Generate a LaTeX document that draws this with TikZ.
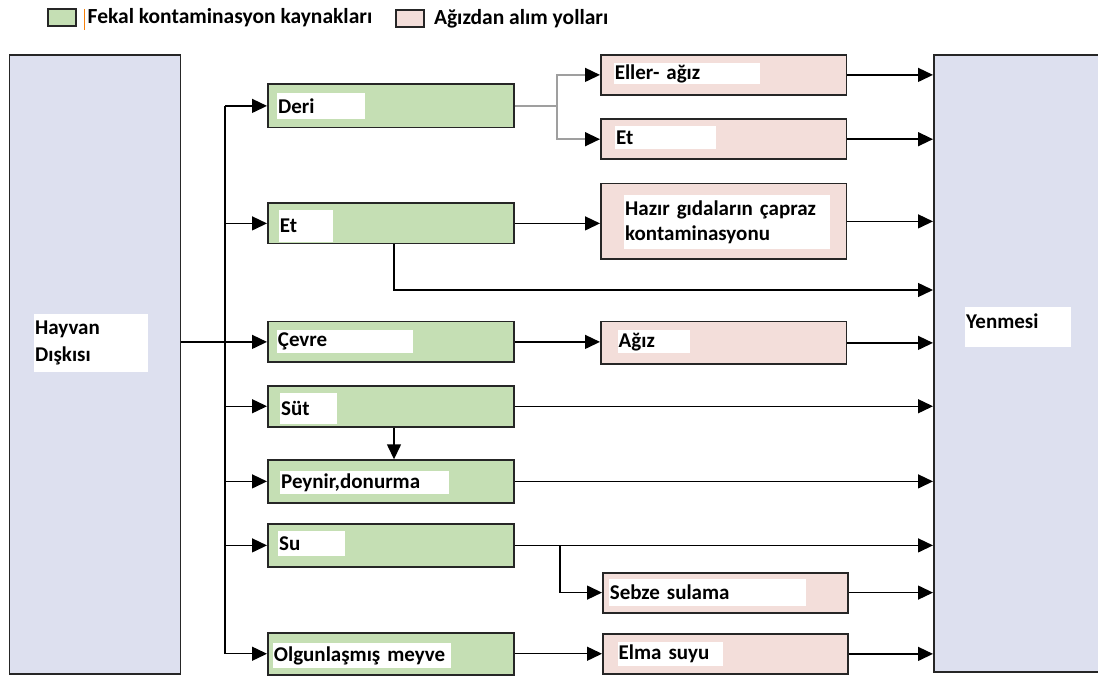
\documentclass[tikz,border=0pt]{standalone}
\usepackage{fontspec}
\setmainfont{Carlito}
\usetikzlibrary{positioning,arrows.meta}
\definecolor{srcgreen}{HTML}{C5DFB4}
\definecolor{routepink}{HTML}{F3DEDA}
\definecolor{endblue}{HTML}{DDE0EF}
\definecolor{boxline}{HTML}{262626}
\tikzset{
  box/.style={draw=boxline, line width=1.8pt, anchor=north west, inner sep=0pt},
  src/.style={box, fill=srcgreen, minimum width=246pt},
  route/.style={box, fill=routepink, minimum width=245.5pt},
  big/.style={box, fill=endblue},
  lbl/.style={fill=white, inner xsep=1pt, inner ysep=0pt, align=left,
    font=\fontsize{21}{27}\selectfont\bfseries},
  arr/.style={line width=1.4pt, -{Triangle[length=15pt,width=14pt]}},
  garr/.style={line width=1.4pt, draw=gray!75, -{Triangle[length=15pt,width=14pt,color=black]}}
}
\begin{document}
\begin{tikzpicture}
      [x = 1pt, y = -1pt]
      \useasboundingbox (0,0) rectangle (1098,676);
      % legend
      \node[src, minimum width=28pt, minimum height=17pt] (legsrc) at (46.7,8.3) {};
      \node[lbl, fill=none, font=\fontsize{21.5}{26}\selectfont\bfseries, right=10pt of legsrc] (legsrct) {Fekal kontaminasyon kaynakları};
      \draw[orange!85!brown, line width=1pt] (84,9) -- (84,30);
      \node[route, minimum width=28pt, minimum height=17pt] (legroute) at (395,9.3) {};
      \node[lbl, fill=none, font=\fontsize{21.5}{26}\selectfont\bfseries, right=8pt of legroute] (legroutet) {Ağızdan alım yolları};
      % outer boxes
      \node[big, minimum width=171pt, minimum height=619pt] (hayvan) at (8.5,54) {};
      \node[lbl, text width=112pt, minimum height=58pt, below right=260pt and 25.5pt of hayvan.north west]
        (hayvant) {Hayvan\\Dışkısı};
      \node[big, minimum width=175pt, minimum height=617pt] (yen) at (933,54) {};
      \node[lbl, text width=104pt, text height=21pt, text depth=19pt, below right=253pt and 32pt of yen.north west]
        (yent) {Yenmesi};
      % sources
      \node[src, minimum height=43.4pt] (deri) at (267,83.3) {};
      \node[src, minimum height=40.4pt] (et) at (267,202.3) {};
      \node[src, minimum height=40.6pt] (cevre) at (267,320.7) {};
      \node[src, minimum height=40.7pt] (sut) at (267,385) {};
      \node[src, minimum height=42.4pt] (peynir) at (267,459.3) {};
      \node[src, minimum height=42.4pt] (su) at (267,523.3) {};
      \node[src, minimum height=42.3pt] (olgun) at (267,631.7) {};
      \node[lbl, text width=86pt, minimum height=26pt, below right=9.7pt and 10pt of deri.north west] (derit) {Deri};
      \node[lbl, text width=52pt, minimum height=32pt, below right=7.7pt and 11.6pt of et.north west] (ett) {Et};
      \node[lbl, text width=134pt, minimum height=23pt, below right=9.3pt and 9.7pt of cevre.north west] (cevret) {Çevre};
      \node[lbl, text width=54.7pt, minimum height=31.3pt, below right=7.7pt and 13pt of sut.north west] (sutt) {Süt};
      \node[lbl, text width=167pt, minimum height=23.3pt, below right=11.4pt and 13pt of peynir.north west] (peynirt) {Peynir,donurma};
      \node[lbl, text width=64.7pt, minimum height=25.3pt, below right=7.4pt and 11pt of su.north west] (sut2) {Su};
      \node[lbl, text width=176.3pt, minimum height=25pt, below right=11.3pt and 5.7pt of olgun.north west] (olgunt) {Olgunlaşmış meyve};
      % routes
      \node[route, minimum height=40pt] (eller) at (600,54) {};
      \node[route, minimum height=40pt] (et2) at (600,118.3) {};
      \node[route, minimum height=75.6pt] (hazir) at (600,182.7) {};
      \node[route, minimum height=42.6pt] (agiz) at (600,320.7) {};
      \node[route, minimum width=245pt, minimum height=40pt] (sebze) at (602,571.7) {};
      \node[route, minimum width=245pt, minimum height=40.6pt] (elma) at (602,632.7) {};
      \node[lbl, text width=144.4pt, minimum height=21pt, below right=9pt and 13.6pt of eller.north west] (ellert) {Eller- ağız};
      \node[lbl, text width=98.5pt, minimum height=23pt, below right=7.7pt and 15pt of et2.north west] (et2t) {Et};
      \node[lbl, text width=204pt, minimum height=54pt, font=\fontsize{21}{25.5}\selectfont\bfseries,
        below right=12.3pt and 24pt of hazir.north west] (hazirt) {Hazır gıdaların çapraz\\kontaminasyonu};
      \node[lbl, text width=70pt, minimum height=23pt, below right=9.3pt and 17.5pt of agiz.north west] (agizt) {Ağız};
      \node[lbl, text width=195.3pt, minimum height=27pt, below right=7.3pt and 6.7pt of sebze.north west] (sebzet) {Sebze sulama};
      \node[lbl, text width=103.5pt, minimum height=24.3pt, below right=9pt and 15.5pt of elma.north west] (elmat) {Elma suyu};
      % trunk from the animal faeces
      \coordinate (trunk) at (225,0);
      \draw[line width=1.4pt] (trunk |- deri.west) -- (trunk |- olgun.west);
      \draw[arr] (hayvan.east |- cevre.west) -- (cevre.west);
      \foreach \n in {deri, et, sut, peynir, su, olgun}
        \draw[arr] (trunk |- \n.west) -- (\n.west);
      % source to route
      \draw[line width=1.4pt, draw=gray!75] (deri.east) -- ++(42,0) coordinate (dsplit);
      \draw[garr] (dsplit) |- (eller.west);
      \draw[garr] (dsplit) |- (et2.west);
      \draw[arr] (et.east) -- (et.east -| hazir.west);
      \coordinate (drop) at (394,290);
      \draw[arr] (et.south -| drop) |- (yen.west |- drop);
      \draw[arr] (cevre.east) -- (cevre.east -| agiz.west);
      \draw[arr] (sut.south -| drop) -- (peynir.north -| drop);
      \draw[arr] (su.east) -- ++(45,0) coordinate (ssplit) |- (sebze.west);
      \draw[arr] (olgun.east) -- (olgun.east -| elma.west);
      % into the end box
      \foreach \n in {sut, peynir, su, eller, et2, hazir, agiz, sebze, elma}
        \draw[arr] (\n.east) -- (\n.east -| yen.west);
\end{tikzpicture}
\end{document}
